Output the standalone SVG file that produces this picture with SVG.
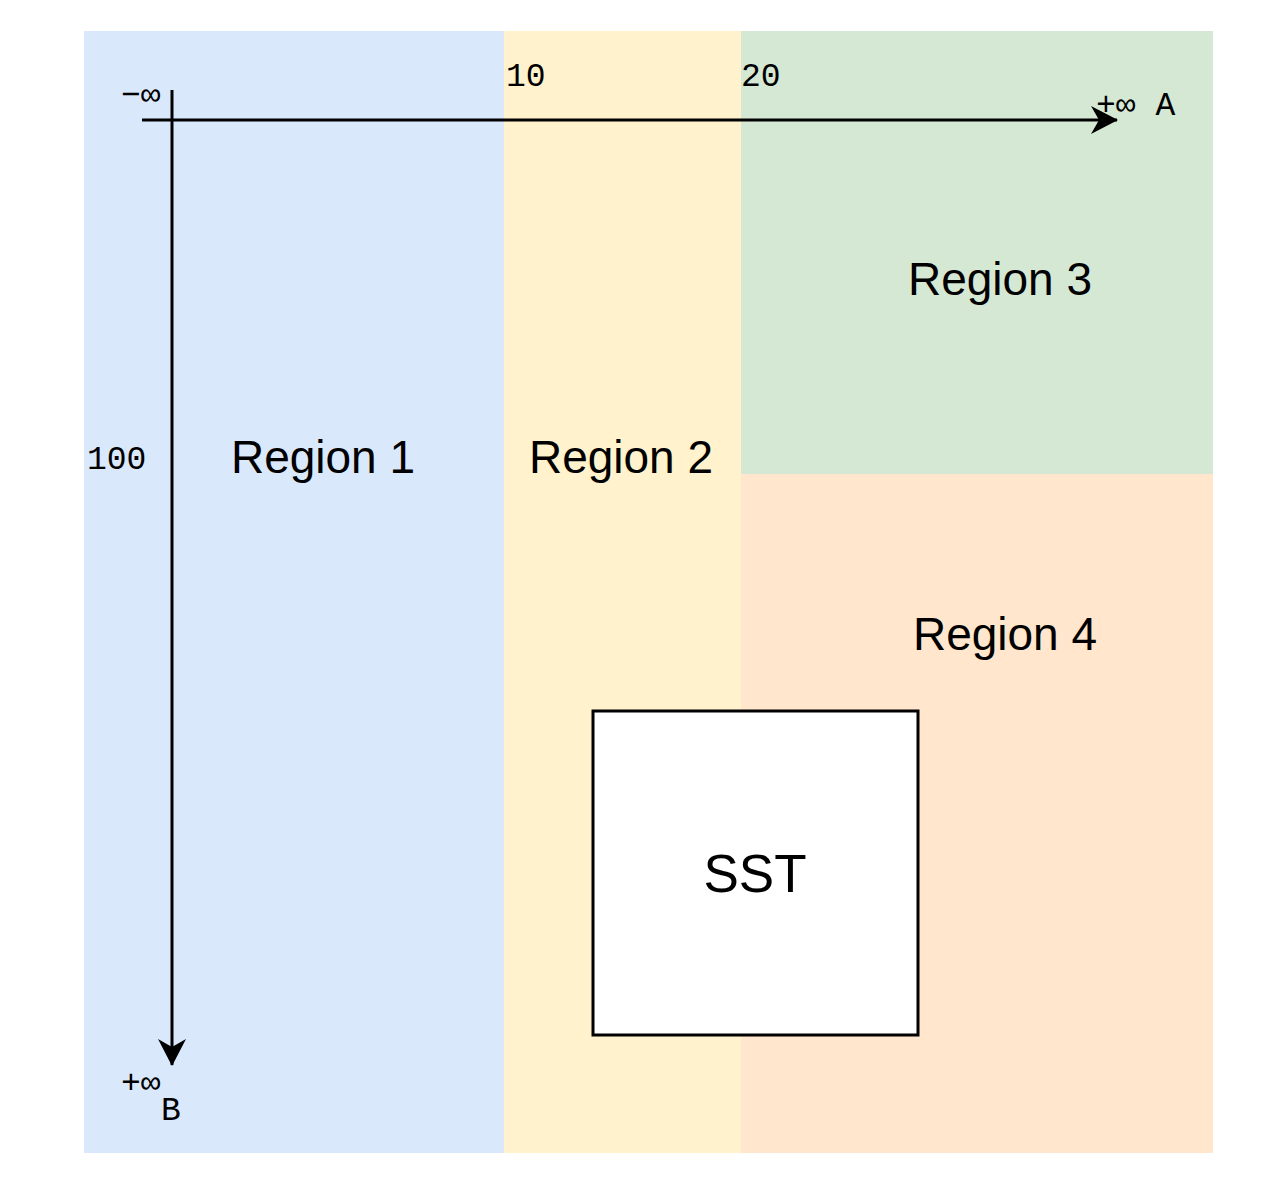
<svg xmlns="http://www.w3.org/2000/svg" width="1280" height="1182" viewBox="0 0 1280 1182">
<style>
.region{font-family:"Liberation Sans",Arial,Helvetica,sans-serif;font-size:46px;fill:#000;text-anchor:middle}
.mono{font-family:"Liberation Mono","Courier New",monospace;font-size:33px;fill:#000}
.axis{stroke:#000;stroke-width:3;fill:none}
</style>
<defs>
<marker id="arr" viewBox="0 0 27 28" refX="26" refY="14" markerWidth="27" markerHeight="28" markerUnits="userSpaceOnUse" orient="auto">
<path d="M27,14 L0,0 L8,14 L0,28 Z" fill="#000"/>
</marker>
</defs>
<rect width="1280" height="1182" fill="#fff"/>
<g id="region1">
<rect x="84" y="31" width="420" height="1122" fill="#dae8fc"/>
<text class="region" x="323" y="473">Region 1</text>
</g>
<g id="region2">
<rect x="504" y="31" width="237" height="1122" fill="#fff2cc"/>
<text class="region" x="621" y="473">Region 2</text>
</g>
<g id="region3">
<rect x="741" y="31" width="472" height="443" fill="#d5e8d4"/>
<text class="region" x="1000" y="295">Region 3</text>
</g>
<g id="region4">
<rect x="741" y="474" width="472" height="679" fill="#ffe6cc"/>
<text class="region" x="1005" y="650">Region 4</text>
</g>
<g id="sst">
<rect x="593" y="711" width="325" height="324" fill="#fff" stroke="#000" stroke-width="3"/>
<text class="region" style="font-size:53px" x="755" y="892">SST</text>
</g>
<g id="connectors">
<line class="axis" x1="142" y1="120" x2="1117" y2="120" marker-end="url(#arr)"/>
<line class="axis" x1="172" y1="90" x2="172" y2="1065" marker-end="url(#arr)"/>
</g>
<g id="labels">
<text class="mono" x="121" y="105">−∞</text>
<text class="mono" x="506" y="86">10</text>
<text class="mono" x="741" y="86">20</text>
<text class="mono" x="1096" y="115">+∞ A</text>
<text class="mono" x="87" y="469">100</text>
<text class="mono" x="121" y="1093">+∞</text>
<text class="mono" x="161" y="1120">B</text>
</g>
</svg>
